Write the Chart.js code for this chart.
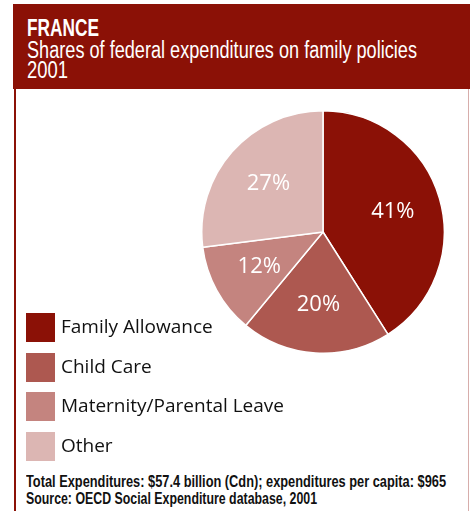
<!DOCTYPE html>
<html>
<head>
<meta charset="utf-8">
<script src="https://cdn.jsdelivr.net/npm/chart.js@4/dist/chart.umd.min.js"></script>
<style>
  body { margin: 0; width: 470px; height: 511px; background: #fff; position: relative; overflow: hidden; }
  #cabecera { position: absolute; left: 13px; top: 4px; width: 457px; height: 85px; background: #8b1106; color: #fff;
    font-family: "Liberation Sans", sans-serif; }
  .ajustar { position: absolute; white-space: nowrap; transform-origin: 0 0; line-height: 1; }
  #pais { left: 14px; top: 12.5px; font-size: 23px; font-weight: bold; }
  #titulo1 { left: 14px; top: 34.5px; font-size: 23px; }
  #titulo2 { left: 14px; top: 54.5px; font-size: 23px; }
  #marcoIzq { position: absolute; left: 14px; top: 89px; width: 2px; height: 422px; background: #8b1106; }
  #marcoDer { position: absolute; left: 468px; top: 89px; width: 1px; height: 422px; background: #d7adab; }
  #grafica { position: absolute; left: 201px; top: 110px; width: 244px; height: 244px; }
  #leyenda { position: absolute; left: 26px; top: 313px; font-family: "Open Sans", sans-serif; font-size: 19px; color: #111; }
  .item { position: relative; height: 29px; margin-bottom: 10.5px; }
  .caja { position: absolute; left: 0; top: 0; width: 29px; height: 29px; }
  .texto { position: absolute; left: 35px; top: 0px; line-height: 27px; white-space: nowrap; }
  .pie { font-family: "Liberation Sans", sans-serif; font-size: 16px; font-weight: bold; color: #111; left: 26px; }
  #pie1 { top: 473.5px; }
  #pie2 { top: 491px; }
</style>
</head>
<body>
<div id="cabecera">
  <div id="pais" class="ajustar" data-ancho="72">FRANCE</div>
  <div id="titulo1" class="ajustar" data-ancho="390">Shares of federal expenditures on family policies</div>
  <div id="titulo2" class="ajustar" data-ancho="41">2001</div>
</div>
<div id="marcoIzq"></div>
<div id="marcoDer"></div>
<div id="grafica"><canvas id="graficaPastel"></canvas></div>
<div id="leyenda"></div>
<div id="pie1" class="ajustar pie" data-ancho="420">Total Expenditures: $57.4 billion (Cdn); expenditures per capita: $965</div>
<div id="pie2" class="ajustar pie" data-ancho="291">Source: OECD Social Expenditure database, 2001</div>

<script>
// Datos
const categorias = ["Family Allowance", "Child Care", "Maternity/Parental Leave", "Other"];
const porcentajes = [41, 20, 12, 27];
const colores = ["#8b1106", "#ad5850", "#c4847f", "#dcb6b3"];

// Texto condensado: comprimir horizontalmente al ancho deseado
document.querySelectorAll(".ajustar").forEach((el) => {
  const objetivo = parseFloat(el.getAttribute("data-ancho"));
  const ancho = el.getBoundingClientRect().width;
  if (ancho > 0) el.style.transform = "scaleX(" + (objetivo / ancho) + ")";
});

// Leyenda en HTML
const leyenda = document.getElementById("leyenda");
categorias.forEach((cat, i) => {
  const item = document.createElement("div");
  item.className = "item";
  item.innerHTML = '<div class="caja" style="background:' + colores[i] + '"></div><div class="texto">' + cat + "</div>";
  leyenda.appendChild(item);
});

// Etiquetas de porcentaje dentro de cada sector
const etiquetasPlugin = {
  id: "etiquetas",
  afterDatasetsDraw(chart) {
    const ctx = chart.ctx;
    const meta = chart.getDatasetMeta(0);
    ctx.save();
    ctx.fillStyle = "#fff";
    ctx.font = '22px "Open Sans", sans-serif';
    ctx.textAlign = "center";
    ctx.textBaseline = "middle";
    meta.data.forEach((arc, i) => {
      const ang = (arc.startAngle + arc.endAngle) / 2;
      const r = arc.outerRadius * 0.6;
      ctx.fillText(porcentajes[i] + "%", arc.x + Math.cos(ang) * r, arc.y + Math.sin(ang) * r);
    });
    ctx.restore();
  }
};

new Chart(document.getElementById("graficaPastel"), {
  type: "pie",
  data: {
    labels: categorias,
    datasets: [{
      data: porcentajes,
      backgroundColor: colores,
      borderColor: "#fff",
      borderWidth: 1.5
    }]
  },
  options: {
    responsive: true,
    maintainAspectRatio: false,
    animation: false,
    layout: { padding: 0 },
    plugins: { legend: { display: false }, tooltip: { enabled: false } }
  },
  plugins: [etiquetasPlugin]
});
</script>
</body>
</html>
